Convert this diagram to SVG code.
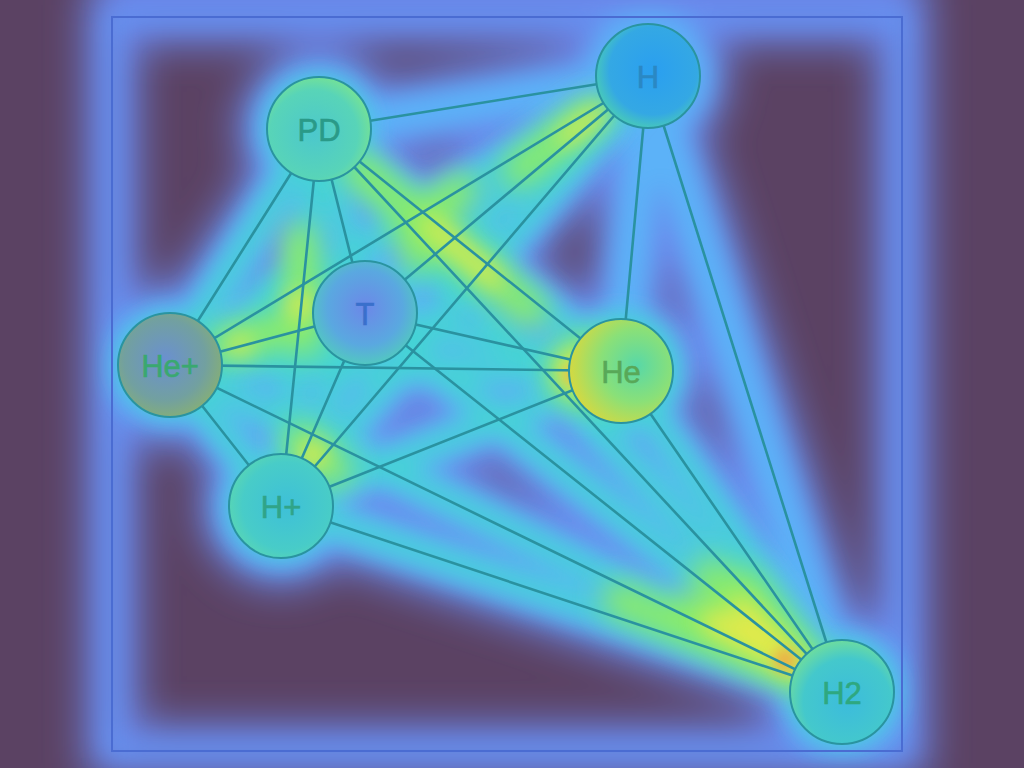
<svg xmlns="http://www.w3.org/2000/svg" width="1024" height="768" viewBox="0 0 1024 768">
<defs>
<filter id="b22" x="-30%" y="-30%" width="160%" height="160%"><feGaussianBlur stdDeviation="20"/></filter>
<filter id="b12" x="-30%" y="-30%" width="160%" height="160%"><feGaussianBlur stdDeviation="12"/></filter>
<filter id="b14" x="-30%" y="-30%" width="160%" height="160%"><feGaussianBlur stdDeviation="14"/></filter>
<filter id="b11" x="-30%" y="-30%" width="160%" height="160%"><feGaussianBlur stdDeviation="11"/></filter>
<filter id="b7" x="-50%" y="-50%" width="200%" height="200%"><feGaussianBlur stdDeviation="7"/></filter>
<radialGradient id="gH" cx="0.55" cy="0.45" r="0.6"><stop offset="0" stop-color="#2a9ff0"/><stop offset="0.7" stop-color="#34a8e4"/><stop offset="1" stop-color="#4cd0b0"/></radialGradient>
<radialGradient id="gPD" cx="0.45" cy="0.55" r="0.6"><stop offset="0" stop-color="#4cc8cc"/><stop offset="0.7" stop-color="#58d4b8"/><stop offset="1" stop-color="#7ae490"/></radialGradient>
<radialGradient id="gT" cx="0.5" cy="0.45" r="0.6"><stop offset="0" stop-color="#6c88e8"/><stop offset="0.6" stop-color="#5aa8e0"/><stop offset="1" stop-color="#50d0b8"/></radialGradient>
<radialGradient id="gHeP" cx="0.45" cy="0.45" r="0.65"><stop offset="0" stop-color="#6a90d0"/><stop offset="0.6" stop-color="#72a0a0"/><stop offset="1" stop-color="#8cb468"/></radialGradient>
<radialGradient id="gHe" cx="0.65" cy="0.45" r="0.7"><stop offset="0" stop-color="#58d8a8"/><stop offset="0.5" stop-color="#8ae078"/><stop offset="1" stop-color="#e0d838"/></radialGradient>
<radialGradient id="gHP" cx="0.55" cy="0.5" r="0.6"><stop offset="0" stop-color="#3ec0d8"/><stop offset="0.7" stop-color="#48ccc8"/><stop offset="1" stop-color="#5cd8b0"/></radialGradient>
<radialGradient id="gH2" cx="0.55" cy="0.6" r="0.6"><stop offset="0" stop-color="#3cbcdc"/><stop offset="0.7" stop-color="#44c8cc"/><stop offset="1" stop-color="#6cdca0"/></radialGradient>
</defs>
<style>
.edge{stroke:#2a92a0;stroke-width:2.6;fill:none;stroke-linecap:round}
.node circle{stroke:#2a94a0;stroke-width:2}
.node text{font-family:"Liberation Sans",Arial,sans-serif;font-size:31px;text-anchor:middle;dominant-baseline:central;stroke-width:0.6}
.h1 line{stroke:#6a88ec;stroke-width:72;stroke-linecap:round}
.h2 line{stroke:#5cb2f8;stroke-width:40;stroke-linecap:round}
.h3 line{stroke:#44d4d4;stroke-width:22;stroke-linecap:round}
.h4 line{stroke:#8cec68;stroke-width:34;stroke-linecap:round}
</style>
<rect width="1024" height="768" fill="#5b4263"/>

<g id="heat">
<g class="h1" filter="url(#b22)">
<rect x="112" y="17" width="790" height="734" fill="none" stroke="#6a86ea" stroke-width="52"/>
<rect x="100" y="-40" width="820" height="70" fill="#6a86ea"/>
<line x1="319" y1="129" x2="648" y2="76"/>
<line x1="319" y1="129" x2="170" y2="365"/>
<line x1="319" y1="129" x2="281" y2="506"/>
<line x1="319" y1="129" x2="365" y2="313"/>
<line x1="319" y1="129" x2="621" y2="371"/>
<line x1="319" y1="129" x2="842" y2="692"/>
<line x1="648" y1="76" x2="170" y2="365"/>
<line x1="648" y1="76" x2="365" y2="313"/>
<line x1="648" y1="76" x2="281" y2="506"/>
<line x1="648" y1="76" x2="621" y2="371"/>
<line x1="648" y1="76" x2="842" y2="692"/>
<line x1="365" y1="313" x2="170" y2="365"/>
<line x1="365" y1="313" x2="621" y2="371"/>
<line x1="365" y1="313" x2="281" y2="506"/>
<line x1="365" y1="313" x2="842" y2="692"/>
<line x1="170" y1="365" x2="621" y2="371"/>
<line x1="170" y1="365" x2="281" y2="506"/>
<line x1="170" y1="365" x2="842" y2="692"/>
<line x1="621" y1="371" x2="281" y2="506"/>
<line x1="621" y1="371" x2="842" y2="692"/>
<line x1="281" y1="506" x2="842" y2="692"/>
<circle cx="319" cy="129" r="80" fill="#6a88ec"/>
<circle cx="648" cy="76" r="80" fill="#6a88ec"/>
<circle cx="365" cy="313" r="80" fill="#6a88ec"/>
<circle cx="170" cy="365" r="80" fill="#6a88ec"/>
<circle cx="621" cy="371" r="80" fill="#6a88ec"/>
<circle cx="281" cy="506" r="80" fill="#6a88ec"/>
<circle cx="842" cy="692" r="80" fill="#6a88ec"/>
</g>
<g class="h2" filter="url(#b12)">
<rect x="112" y="17" width="790" height="734" fill="none" stroke="#6494f2" stroke-width="14"/>
<line x1="319" y1="129" x2="648" y2="76"/>
<line x1="319" y1="129" x2="170" y2="365"/>
<line x1="319" y1="129" x2="281" y2="506"/>
<line x1="319" y1="129" x2="365" y2="313"/>
<line x1="319" y1="129" x2="621" y2="371"/>
<line x1="319" y1="129" x2="842" y2="692"/>
<line x1="648" y1="76" x2="170" y2="365"/>
<line x1="648" y1="76" x2="365" y2="313"/>
<line x1="648" y1="76" x2="281" y2="506"/>
<line x1="648" y1="76" x2="621" y2="371"/>
<line x1="648" y1="76" x2="842" y2="692"/>
<line x1="365" y1="313" x2="170" y2="365"/>
<line x1="365" y1="313" x2="621" y2="371"/>
<line x1="365" y1="313" x2="281" y2="506"/>
<line x1="365" y1="313" x2="842" y2="692"/>
<line x1="170" y1="365" x2="621" y2="371"/>
<line x1="170" y1="365" x2="281" y2="506"/>
<line x1="170" y1="365" x2="842" y2="692"/>
<line x1="621" y1="371" x2="281" y2="506"/>
<line x1="621" y1="371" x2="842" y2="692"/>
<line x1="281" y1="506" x2="842" y2="692"/>
<circle cx="319" cy="129" r="64" fill="#5cb2f8"/>
<circle cx="648" cy="76" r="64" fill="#5cb2f8"/>
<circle cx="365" cy="313" r="64" fill="#5cb2f8"/>
<circle cx="170" cy="365" r="64" fill="#5cb2f8"/>
<circle cx="621" cy="371" r="64" fill="#5cb2f8"/>
<circle cx="281" cy="506" r="64" fill="#5cb2f8"/>
<circle cx="842" cy="692" r="64" fill="#5cb2f8"/>
</g>
<g class="h3" filter="url(#b12)">
<line x1="319" y1="129" x2="170" y2="365"/>
<line x1="319" y1="129" x2="281" y2="506"/>
<line x1="319" y1="129" x2="365" y2="313"/>
<line x1="319" y1="129" x2="621" y2="371"/>
<line x1="319" y1="129" x2="842" y2="692"/>
<line x1="648" y1="76" x2="170" y2="365"/>
<line x1="648" y1="76" x2="365" y2="313"/>
<line x1="648" y1="76" x2="281" y2="506"/>
<line x1="365" y1="313" x2="170" y2="365"/>
<line x1="365" y1="313" x2="621" y2="371"/>
<line x1="365" y1="313" x2="281" y2="506"/>
<line x1="365" y1="313" x2="842" y2="692"/>
<line x1="170" y1="365" x2="621" y2="371"/>
<line x1="170" y1="365" x2="281" y2="506"/>
<line x1="170" y1="365" x2="842" y2="692"/>
<line x1="621" y1="371" x2="281" y2="506"/>
<line x1="621" y1="371" x2="842" y2="692"/>
<line x1="281" y1="506" x2="842" y2="692"/>
<circle cx="319" cy="129" r="50" fill="#44d4d4"/>
<circle cx="170" cy="365" r="50" fill="#44d4d4"/>
<circle cx="621" cy="371" r="58" fill="#44d4d4"/>
<circle cx="281" cy="506" r="50" fill="#44d4d4"/>
<circle cx="842" cy="692" r="52" fill="#44d4d4"/>
<circle cx="300" cy="320" r="55" fill="#44d4d4"/>
<circle cx="460" cy="260" r="40" fill="#44d4d4"/>
</g>
<g class="h4" filter="url(#b14)">
<line x1="690" y1="610" x2="812" y2="670"/>
<line x1="710" y1="575" x2="812" y2="670"/>
<line x1="745" y1="585" x2="812" y2="670"/>
<line x1="620" y1="600" x2="800" y2="675"/>
<line x1="360" y1="170" x2="530" y2="310"/>
<line x1="300" y1="240" x2="305" y2="340"/>
<line x1="225" y1="345" x2="300" y2="325"/>
<line x1="300" y1="440" x2="335" y2="470"/>
<line x1="590" y1="115" x2="520" y2="170"/>
<line x1="410" y1="230" x2="460" y2="190"/>
<circle cx="585" cy="372" r="36" fill="#8cec68"/>
<circle cx="420" cy="250" r="20" fill="#8cec68"/>
</g>
<g filter="url(#b11)" fill="#e4ea4a" stroke="#e4ea4a" stroke-linecap="round">
<line x1="715" y1="622" x2="795" y2="665" stroke-width="24"/>
<line x1="740" y1="605" x2="795" y2="660" stroke-width="18"/>
<circle cx="578" cy="372" r="20"/>
<line x1="430" y1="225" x2="495" y2="280" stroke-width="16"/>
<line x1="600" y1="112" x2="565" y2="138" stroke-width="14"/>
<circle cx="312" cy="455" r="13"/>
<circle cx="300" cy="305" r="13"/>
<circle cx="240" cy="345" r="10"/>
</g>
<g filter="url(#b7)" fill="#f0a844">
<circle cx="785" cy="660" r="11"/>
<circle cx="573" cy="375" r="8"/>
</g>
</g>

<rect x="112" y="17" width="790" height="734" fill="none" stroke="#4a6cd2" stroke-width="2"/>

<g id="edges">
<line class="edge" x1="319" y1="129" x2="648" y2="76"/>
<line class="edge" x1="319" y1="129" x2="170" y2="365"/>
<line class="edge" x1="319" y1="129" x2="281" y2="506"/>
<line class="edge" x1="319" y1="129" x2="365" y2="313"/>
<line class="edge" x1="319" y1="129" x2="621" y2="371"/>
<line class="edge" x1="319" y1="129" x2="842" y2="692"/>
<line class="edge" x1="648" y1="76" x2="170" y2="365"/>
<line class="edge" x1="648" y1="76" x2="365" y2="313"/>
<line class="edge" x1="648" y1="76" x2="281" y2="506"/>
<line class="edge" x1="648" y1="76" x2="621" y2="371"/>
<line class="edge" x1="648" y1="76" x2="842" y2="692"/>
<line class="edge" x1="365" y1="313" x2="170" y2="365"/>
<line class="edge" x1="365" y1="313" x2="621" y2="371"/>
<line class="edge" x1="365" y1="313" x2="281" y2="506"/>
<line class="edge" x1="365" y1="313" x2="842" y2="692"/>
<line class="edge" x1="170" y1="365" x2="621" y2="371"/>
<line class="edge" x1="170" y1="365" x2="281" y2="506"/>
<line class="edge" x1="170" y1="365" x2="842" y2="692"/>
<line class="edge" x1="621" y1="371" x2="281" y2="506"/>
<line class="edge" x1="621" y1="371" x2="842" y2="692"/>
<line class="edge" x1="281" y1="506" x2="842" y2="692"/>
</g>

<g id="node-PD" class="node"><circle cx="319" cy="129" r="52" fill="url(#gPD)"/><text x="319" y="130" fill="#2a9a88" stroke="#2a9a88">PD</text></g>
<g id="node-H" class="node"><circle cx="648" cy="76" r="52" fill="url(#gH)"/><text x="648" y="77" fill="#2a88c4" stroke="#2a88c4">H</text></g>
<g id="node-T" class="node"><circle cx="365" cy="313" r="52" fill="url(#gT)"/><text x="365" y="314" fill="#3a70cc" stroke="#3a70cc">T</text></g>
<g id="node-HeP" class="node"><circle cx="170" cy="365" r="52" fill="url(#gHeP)"/><text x="170" y="366" fill="#3aa870" stroke="#3aa870">He+</text></g>
<g id="node-He" class="node"><circle cx="621" cy="371" r="52" fill="url(#gHe)"/><text x="621" y="372" fill="#58a858" stroke="#58a858">He</text></g>
<g id="node-HP" class="node"><circle cx="281" cy="506" r="52" fill="url(#gHP)"/><text x="281" y="507" fill="#30a488" stroke="#30a488">H+</text></g>
<g id="node-H2" class="node"><circle cx="842" cy="692" r="52" fill="url(#gH2)"/><text x="842" y="693" fill="#2ea880" stroke="#2ea880">H2</text></g>
</svg>
